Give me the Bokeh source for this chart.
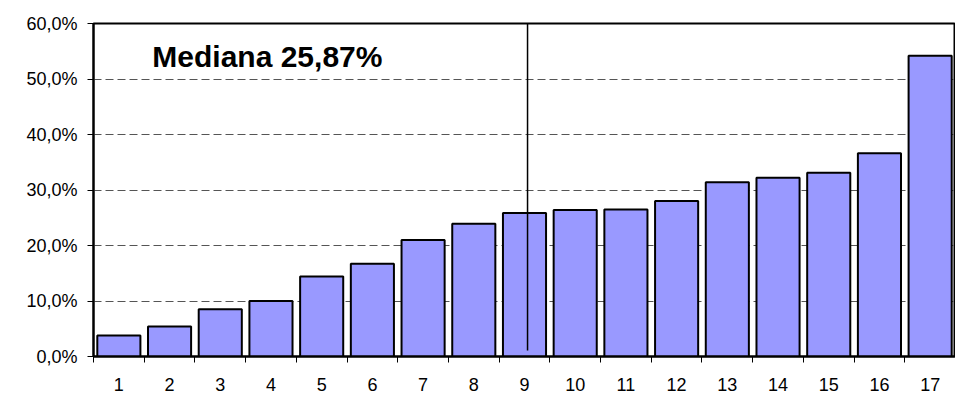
from bokeh.plotting import figure
from bokeh.models import Range1d, FixedTicker, Label, ColumnDataSource
from bokeh.embed import file_html
from bokeh.resources import INLINE

categories = list(range(1, 18))
values = [3.8, 5.4, 8.5, 10.0, 14.4, 16.7, 21.0, 23.9, 25.87, 26.4, 26.5,
          28.0, 31.4, 32.2, 33.1, 36.6, 54.2]
y_ticks = [0, 10, 20, 30, 40, 50, 60]
y_tick_labels = ["0,0%", "10,0%", "20,0%", "30,0%", "40,0%", "50,0%", "60,0%"]
median_value = 25.87
median_pos = 9.06
median_line_y = [1.1, 60]

FONT = "Liberation Sans"

p = figure(width=955, height=393, output_backend="svg", toolbar_location=None,
           x_range=Range1d(0.5, 17.5), y_range=Range1d(0, 60),
           min_border_left=93, min_border_right=0, min_border_top=23,
           min_border_bottom=37)
p.background_fill_color = "white"
p.border_fill_color = "white"
p.outline_line_color = "black"
p.outline_line_width = 2

src = ColumnDataSource(dict(x=categories, top=values))
p.vbar(x="x", top="top", bottom=0, width=0.85, source=src,
       fill_color="#9999FF", line_color="black", line_width=2)

p.segment(x0=[median_pos], y0=[median_line_y[0]], x1=[median_pos], y1=[median_line_y[1]],
          line_color="black", line_width=1.5)

label_text = "Mediana " + f"{median_value:.2f}".replace(".", ",") + "%"
p.add_layout(Label(x=1.66, y=54.1, text=label_text, text_font=FONT,
                   text_font_size="30px", text_font_style="bold",
                   text_color="black", text_baseline="alphabetic"))

# x axis
p.xaxis.ticker = FixedTicker(ticks=categories,
                             minor_ticks=[c - 0.5 for c in categories] + [17.5])
p.xaxis.major_tick_out = 0
p.xaxis.major_tick_in = 0
p.xaxis.minor_tick_out = 6
p.xaxis.minor_tick_in = 0
p.xaxis.minor_tick_line_color = "black"
p.xaxis.axis_line_color = "black"
p.xaxis.axis_line_width = 2
p.xaxis.major_label_text_font = FONT
p.xaxis.major_label_text_font_size = "18px"
p.xaxis.major_label_text_color = "black"
p.xaxis.major_label_standoff = 15

# y axis
p.yaxis.ticker = FixedTicker(ticks=y_ticks)
p.yaxis.major_label_overrides = {t: l for t, l in zip(y_ticks, y_tick_labels)}
p.yaxis.major_tick_out = 6
p.yaxis.major_tick_in = 0
p.yaxis.minor_tick_line_color = None
p.yaxis.major_tick_line_color = "black"
p.yaxis.axis_line_color = "black"
p.yaxis.axis_line_width = 2
p.yaxis.major_label_text_font = FONT
p.yaxis.major_label_text_font_size = "18px"
p.yaxis.major_label_text_color = "black"
p.yaxis.major_label_standoff = 10

p.xgrid.grid_line_color = None
p.ygrid.ticker = FixedTicker(ticks=y_ticks[1:-1])
p.ygrid.grid_line_color = "#555555"
p.ygrid.grid_line_dash = "8 4"
p.ygrid.grid_line_width = 1

open("out.html", "w").write(file_html(p, INLINE))
